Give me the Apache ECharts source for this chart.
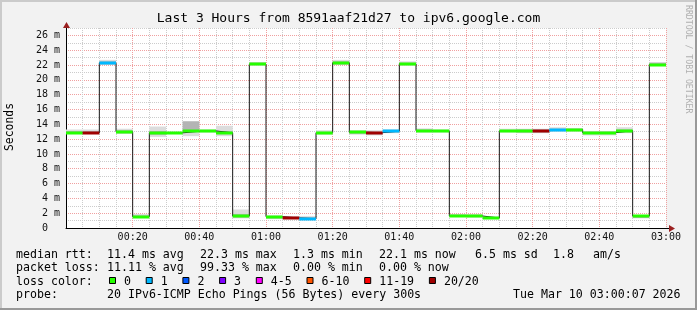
<!DOCTYPE html>
<html><head><meta charset="utf-8">
<script src="https://cdn.jsdelivr.net/npm/echarts@6/dist/echarts.min.js"></script>
<style>html,body{margin:0;padding:0;background:#f2f2f2;}#c{width:697px;height:310px;}</style>
</head><body><div id="c"></div>
<script>
// ---- data (one sample every 5 minutes, 3 hours) ----
const STEP_MIN = 5;
const TOTAL_MIN = 180;
const Y_MAX = 27;
const medians  = [12.85,12.85,22.3,13.0,1.53,12.85,12.85,13.05,13.1,12.85,1.62,22.1,1.53,1.35,1.26,12.87,22.3,12.92,12.87,13.07,22.17,13.14,13.07,1.62,1.62,1.35,13.1,13.14,13.14,13.23,13.28,12.87,12.87,13.14,1.62,22.07];
const lossCounts = [0,20,1,0,0,0,0,0,0,0,0,0,0,20,1,0,0,0,20,1,0,0,0,0,0,0,0,0,20,1,0,0,0,0,0,0];
const smokeLo = [12.7,12.7,22.0,12.7,1.4,12.3,12.75,12.4,12.9,12.4,1.3,21.9,1.2,1.2,1.1,12.6,22.0,12.6,12.5,12.8,21.9,12.9,12.9,1.5,1.4,1.25,12.9,12.8,12.8,13.0,13.0,12.5,12.5,12.8,1.3,21.9];
const smokeHi = [13.3,13.3,22.7,13.4,1.9,13.7,13.0,14.4,13.3,13.8,2.5,22.4,1.7,1.6,1.6,13.2,22.7,13.2,13.2,13.3,22.5,13.45,13.3,1.9,1.9,1.55,13.4,13.4,13.4,13.6,13.5,13.1,13.1,13.6,1.7,22.4];
const coreLo  = [12.8,12.8,22.1,12.8,1.45,12.6,12.8,13.0,12.95,12.7,1.4,22.0,1.3,1.25,1.15,12.7,22.1,12.7,12.7,12.9,22.0,13.0,13.0,1.55,1.5,1.3,13.0,12.9,12.9,13.1,13.1,12.7,12.7,12.9,1.35,22.0];
const coreHi  = [13.1,13.1,22.5,13.2,1.7,13.1,12.95,14.4,13.2,13.1,1.9,22.3,1.6,1.5,1.45,13.0,22.5,13.0,13.0,13.2,22.3,13.3,13.2,1.8,1.75,1.45,13.2,13.3,13.3,13.4,13.4,13.0,13.0,13.3,1.6,22.3];
const lossBuckets = ['0','1','2','3','4-5','6-10','11-19','20/20'];
const titleText = 'Last 3 Hours from 8591aaf21d27 to ipv6.google.com';
const rttStats  = ['median rtt:','11.4 ms avg','22.3 ms max','1.3 ms min','22.1 ms now','6.5 ms sd','1.8','am/s'];
const lossStats = ['packet loss:','11.11 % avg','99.33 % max','0.00 % min','0.00 % now'];
const probeInfo = ['probe:','20 IPv6-ICMP Echo Pings (56 Bytes) every 300s','Tue Mar 10 03:00:07 2026'];

// ---- styles ----
const FONT = 'DejaVu Sans Mono';
const bucketColors = ['#26ff00','#00b8ff','#0059ff','#7e00ff','#ff00ff','#ff5500','#ff0000','#a00000'];
function bucketOf(n){ if(n<=3) return n; if(n<=5) return 4; if(n<=10) return 5; if(n<=19) return 6; return 7; }
const MAJOR = '#f0a0a0', MINOR = '#cccccc';

const smokeOuter = medians.map((m,i)=>[i*STEP_MIN, smokeLo[i], smokeHi[i]]);
const smokeInner = medians.map((m,i)=>[i*STEP_MIN, coreLo[i], coreHi[i]]);
const stepLine = medians.map((m,i)=>[i*STEP_MIN, m]).concat([[TOTAL_MIN, medians[medians.length-1]]]);
const medSeg = medians.map((m,i)=>[i*STEP_MIN, m, lossCounts[i]]);

function rangeRender(fill){
  return function(params, api){
    const a = api.coord([api.value(0), api.value(2)]);
    const b = api.coord([api.value(0)+STEP_MIN, api.value(1)]);
    return {type:'rect', shape:{x:a[0], y:a[1], width:b[0]-a[0], height:b[1]-a[1]}, style:{fill:fill}};
  };
}
function pad(n){return (n<10?'0':'')+n;}

const chart = echarts.init(document.getElementById('c'), null, {renderer:'canvas', width:697, height:310});

const textStyleBase = {fontFamily:FONT, fontSize:11.6, fill:'#000', verticalAlign:'middle', align:'left'};
const graphics = [];
// frame
graphics.push({type:'rect', shape:{x:0,y:0,width:697,height:2}, style:{fill:'#cbcbcb'}, silent:true});
graphics.push({type:'rect', shape:{x:0,y:0,width:2,height:310}, style:{fill:'#cbcbcb'}, silent:true});
graphics.push({type:'rect', shape:{x:0,y:308,width:697,height:2}, style:{fill:'#999999'}, silent:true});
graphics.push({type:'rect', shape:{x:695,y:0,width:2,height:310}, style:{fill:'#999999'}, silent:true});
// title
graphics.push({type:'text', x:348.5, y:19, style:{text:titleText, fontFamily:FONT, fontSize:13, fill:'#000', align:'center', verticalAlign:'middle'}});
// y name
graphics.push({type:'text', x:10, y:127, rotation:Math.PI/2, style:{text:'Seconds', fontFamily:FONT, fontSize:11.4, fill:'#000', align:'center', verticalAlign:'middle'}});
// watermark
graphics.push({type:'text', x:688, y:5, rotation:-Math.PI/2, style:{text:'RRDTOOL / TOBI OETIKER', fontFamily:FONT, fontSize:8.2, fill:'#b0b0b0', align:'left', verticalAlign:'middle'}});
// legend rows
const colX = [16,107,200,293,379,475,553,593];
rttStats.forEach((t,i)=>graphics.push({type:'text', x:colX[i], y:254.5, style:Object.assign({text:t}, textStyleBase)}));
lossStats.forEach((t,i)=>graphics.push({type:'text', x:colX[i], y:268, style:Object.assign({text:t}, textStyleBase)}));
graphics.push({type:'text', x:16, y:281.5, style:Object.assign({text:'loss color:'}, textStyleBase)});
let lx = 109;
lossBuckets.forEach((lab,i)=>{
  graphics.push({type:'rect', shape:{x:lx+0.5, y:277.5, width:6, height:6}, style:{fill:bucketColors[i], stroke:'#000', lineWidth:1}});
  graphics.push({type:'text', x:lx+15, y:281.5, style:Object.assign({text:lab}, textStyleBase)});
  lx += 15 + lab.length*7 + 14.7;
});
graphics.push({type:'text', x:16, y:295, style:Object.assign({text:probeInfo[0]}, textStyleBase)});
graphics.push({type:'text', x:107, y:295, style:Object.assign({text:probeInfo[1]}, textStyleBase)});
graphics.push({type:'text', x:513, y:295, style:Object.assign({text:probeInfo[2]}, textStyleBase)});

const xColors = [MAJOR, MINOR, MINOR, MINOR];
const option = {
  backgroundColor:'#f2f2f2',
  animation:false,
  grid:{left:66, right:31, top:28, bottom:82, show:true, backgroundColor:'#ffffff', borderWidth:0, containLabel:false},
  xAxis:{type:'value', min:0, max:TOTAL_MIN, interval:STEP_MIN,
    axisLine:{show:true, onZero:false, lineStyle:{color:'#000', width:1}},
    axisTick:{show:false},
    splitLine:{show:true, lineStyle:{color:xColors, type:[1,1], width:1}},
    axisLabel:{show:true, margin:4, fontFamily:FONT, fontSize:10, color:'#111',
      formatter:function(v){ if(v<=0 || v%20!==0) return ''; return pad(Math.floor(v/60))+':'+pad(v%60); }}
  },
  yAxis:{type:'value', min:0, max:Y_MAX, interval:1,
    axisLine:{show:true, lineStyle:{color:'#000', width:1}},
    axisTick:{show:false},
    splitLine:{show:true, lineStyle:{color:[MAJOR, MINOR], type:[1,1], width:1}},
    axisLabel:{show:true, margin:6, fontFamily:FONT, fontSize:10, color:'#111',
      formatter:function(v){ if(v%2!==0) return ''; return v===0 ? ' 0  ' : v+' m'; }}
  },
  graphic:graphics,
  series:[
    {type:'custom', data:smokeOuter, renderItem:rangeRender('#dcdcdc'), z:2, silent:true},
    {type:'custom', data:smokeInner, renderItem:rangeRender('#b4b4b4'), z:3, silent:true},
    {type:'line', data:stepLine, step:'end', symbol:'none', lineStyle:{color:'#1a1a1a', width:1}, z:4, silent:true},
    {type:'custom', data:medSeg, z:5, silent:true, renderItem:function(params, api){
      const a = api.coord([api.value(0), api.value(1)]);
      const b = api.coord([api.value(0)+STEP_MIN, api.value(1)]);
      return {type:'rect', shape:{x:a[0], y:Math.round(a[1])-1.5, width:b[0]-a[0], height:3}, style:{fill:bucketColors[bucketOf(api.value(2))]}};
    }}
  ]
};
chart.setOption(option);

// axis arrows
const pE = chart.convertToPixel({gridIndex:0}, [TOTAL_MIN, 0]);
const pT = chart.convertToPixel({gridIndex:0}, [0, Y_MAX]);
const ARROW = '#9b2020';
graphics.push({type:'line', shape:{x1:pE[0], y1:Math.round(pE[1])+0.5, x2:pE[0]+4, y2:Math.round(pE[1])+0.5}, style:{stroke:'#000', lineWidth:1}, z:10});
graphics.push({type:'polygon', shape:{points:[[pE[0]+3,pE[1]-3],[pE[0]+9,pE[1]+0.5],[pE[0]+3,pE[1]+4]]}, style:{fill:ARROW}, z:10});
graphics.push({type:'polygon', shape:{points:[[pT[0]-3,pT[1]],[pT[0]+0.5,pT[1]-6],[pT[0]+4,pT[1]]]}, style:{fill:ARROW}, z:10});
chart.setOption({graphic:graphics}, {replaceMerge:['graphic']});
</script></body></html>
